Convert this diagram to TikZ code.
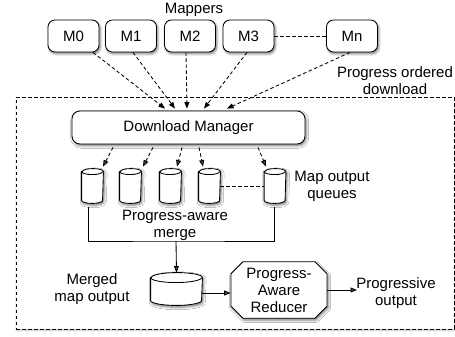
\documentclass[tikz,border=0pt]{standalone}
\usepackage{fontspec}
\setmainfont{Liberation Sans}
\usetikzlibrary{arrows.meta,shapes.misc,shadows.blur}
\newcommand\dgfont{\fontsize{15}{17}\selectfont}
\tikzset{
  softshadow/.style={blur shadow={shadow xshift=1.2pt, shadow yshift=-1.8pt, shadow blur radius=2.5pt, shadow opacity=55}},
}
\newcommand\mycyl[6]{%
  \node[inner sep=0pt, minimum width=#4pt, minimum height=#5pt] (#1) at (#2,#3) {};
  \path[draw, fill=white, softshadow] ([yshift=-#6pt]#1.north west) -- ([yshift=#6pt]#1.south west)
     arc[start angle=180, end angle=360, x radius=#4pt/2, y radius=#6pt]
     -- ([yshift=-#6pt]#1.north east)
     arc[start angle=0, end angle=180, x radius=#4pt/2, y radius=#6pt] -- cycle;
  \draw ([yshift=-#6pt]#1.north west) arc[start angle=180, end angle=360, x radius=#4pt/2, y radius=#6pt];
}
\begin{document}
\begin{tikzpicture}[x=1pt,y=1pt, line width=0.85pt,
  box/.style={draw, fill=white, rounded corners=7pt, inner sep=0pt, font=\dgfont, softshadow},
  dsh/.style={dash pattern=on 3.5pt off 2.5pt},
  arr/.style={-{Triangle[length=6.5pt,width=5pt]}},
  lbl/.style={font=\dgfont, align=center, inner sep=0pt}]
\useasboundingbox (0,0) rectangle (455,337);

% outer frame
\node[draw, dsh, fill=white, inner sep=0pt, minimum width=438pt, minimum height=231.5pt,
  blur shadow={shadow xshift=0.5pt, shadow yshift=-1.5pt, shadow blur radius=2pt, shadow opacity=25}] (frame) at (235,123.75) {};

% mappers
\node[box, minimum width=51pt, minimum height=32pt] (m0) at (73.5,301) {M0};
\node[box, minimum width=51pt, minimum height=32pt] (m1) at (131,301) {M1};
\node[box, minimum width=51pt, minimum height=32pt] (m2) at (190,301) {M2};
\node[box, minimum width=51pt, minimum height=32pt] (m3) at (248.5,301) {M3};
\node[box, minimum width=51pt, minimum height=32pt] (mn) at (352,301) {Mn};
\draw[dsh] (m3) -- (mn);

% download manager
\node[box, rounded corners=8pt, minimum width=233pt, minimum height=33pt] (dm) at (188.5,209.5) {Download Manager};

\draw[dsh,arr] ([xshift=19.5pt]m0.south) -- ([xshift=-23.5pt,yshift=2pt]dm.north);
\draw[dsh,arr] ([xshift=2pt]m1.south) -- ([xshift=-13.5pt,yshift=2pt]dm.north);
\draw[dsh,arr] ([xshift=-4pt]m2.south) -- ([xshift=-1.5pt,yshift=2pt]dm.north);
\draw[dsh,arr] ([xshift=-1.5pt]m3.south) -- ([xshift=15.5pt,yshift=2pt]dm.north);
\draw[dsh,arr] ([xshift=-2pt]mn.south) -- ([xshift=38.5pt,yshift=2pt]dm.north);

% queues
\mycyl{q1}{92.5}{151}{21}{34}{3}
\mycyl{q2}{130.5}{151}{21}{34}{3}
\mycyl{q3}{170.5}{151}{21}{34}{3}
\mycyl{q4}{209.5}{151}{21}{34}{3}
\mycyl{q5}{275}{151}{21}{34}{3}
\draw[dsh] (q4) -- (q5);

\draw[dsh,arr] ([xshift=-75.5pt,yshift=-3pt]dm.south) -- ([xshift=10.5pt,yshift=2pt]q1.north);
\draw[dsh,arr] ([xshift=-35.5pt,yshift=-3pt]dm.south) -- ([xshift=12.5pt,yshift=2pt]q2.north);
\draw[dsh,arr] ([xshift=-6.5pt,yshift=-3pt]dm.south) -- ([xshift=6.5pt,yshift=2pt]q3.north);
\draw[dsh,arr] ([xshift=10.5pt,yshift=-3pt]dm.south) -- ([xshift=-6.5pt,yshift=2pt]q4.north);
\draw[dsh,arr] ([xshift=69.5pt,yshift=-3pt]dm.south) -- ([xshift=-9pt,yshift=2pt]q5.north);

% merge
\coordinate (mb) at (176,96);
\draw ([xshift=-4.5pt,yshift=-4pt]q1.south) |- (mb) -| ([xshift=-1pt,yshift=-4pt]q5.south);
\mycyl{mc}{176.5}{48}{51}{32}{5}
\draw[arr] (mb) -- (mc.north);

% reducer
\node[chamfered rectangle, chamfered rectangle xsep=6pt, chamfered rectangle ysep=6pt,
  draw, fill=white, softshadow, minimum width=96pt, minimum height=54pt, inner sep=0pt, lbl] (red) at (279,47) {Progress-\\Aware\\Reducer};
\draw[arr] ([yshift=-4pt]mc.east) -- ([yshift=-3pt]red.west);
\coordinate (out) at (357,47);
\draw[arr] (red.east) -- (out);

% labels
\node[lbl] (lmap) at (194,327) {Mappers};
\node[lbl] (lpod) at (395,256.5) {Progress ordered\\download};
\node[lbl] (lq) at (332,151) {Map output\\queues};
\node[lbl] (lpm) at (175,111.5) {Progress-aware\\merge};
\node[lbl] (lmm) at (92,47.5) {Merged\\map output};
\node[lbl] (lpo) at (396,43.5) {Progressive\\output};
\end{tikzpicture}
\end{document}
